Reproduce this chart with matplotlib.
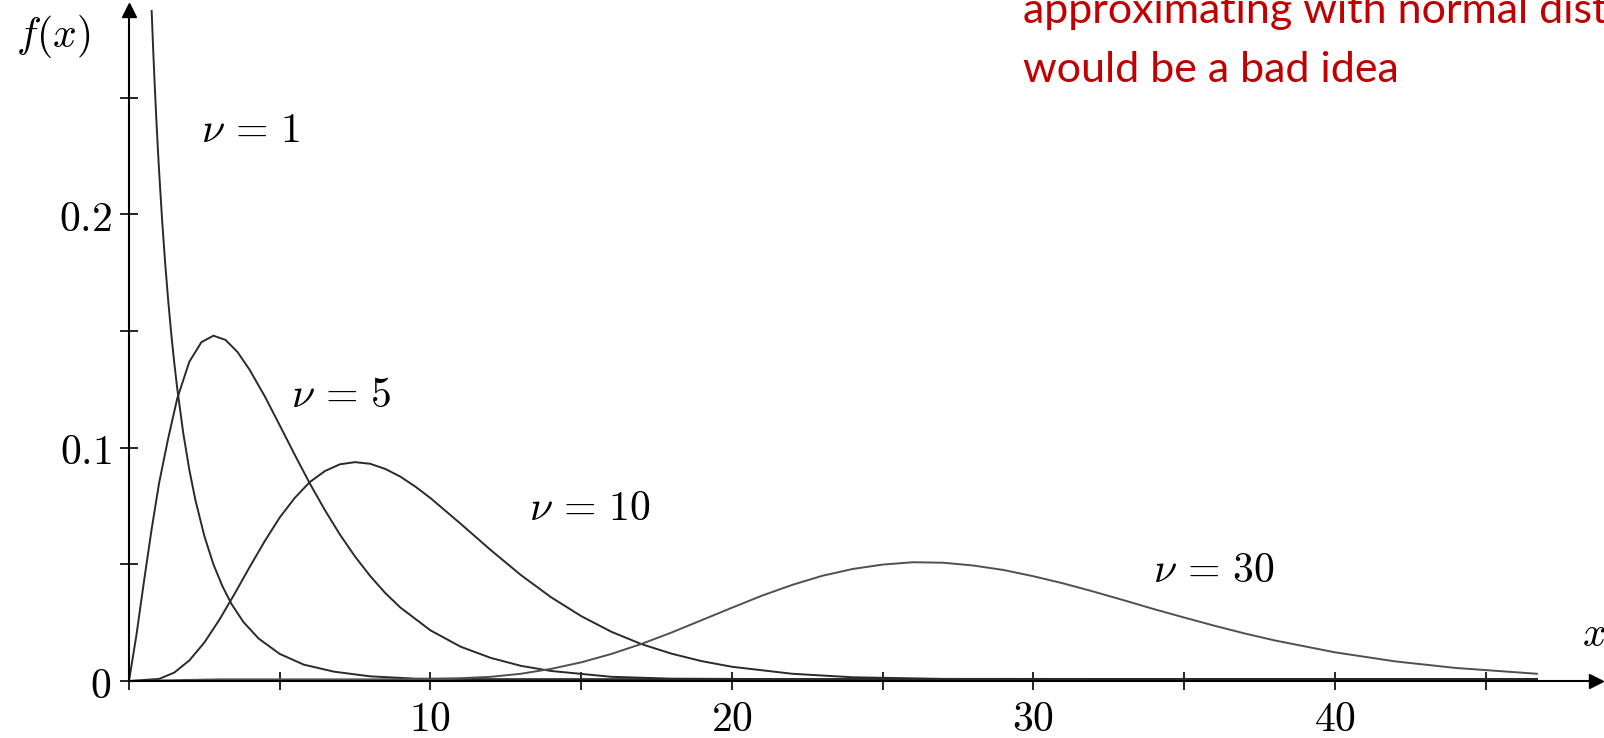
import matplotlib
matplotlib.use('Agg')
import matplotlib.pyplot as plt

plt.rcParams['mathtext.fontset'] = 'cm'

# --- valores (densidade qui-quadrado) ---
x_nu1 = [0.75, 0.80, 0.85, 0.90, 0.95, 1.0, 1.1, 1.2, 1.3, 1.4, 1.5, 1.6, 1.8, 2.0, 2.2,
         2.5, 2.8, 3.1, 3.4, 3.8, 4.3, 5.0, 5.8, 6.8, 8.0, 9.5, 12.0, 46.7]
y_nu1 = [0.2877, 0.2713, 0.2563, 0.2425, 0.2298, 0.2182, 0.1972, 0.1790, 0.1631, 0.1490,
         0.1365, 0.1254, 0.1062, 0.0906, 0.0777, 0.0621, 0.0500, 0.0406, 0.0330, 0.0252,
         0.0182, 0.0116, 0.0070, 0.0040, 0.0020, 0.0010, 0.0008, 0.0008]

x_nu5 = [0, 0.25, 0.5, 0.75, 1.0, 1.3, 1.6, 2.0, 2.4, 2.8, 3.2, 3.6, 4.0, 4.5, 5.0, 5.5,
         6.0, 6.5, 7.0, 7.5, 8.0, 8.5, 9.0, 10, 11, 12, 13, 14, 16, 18, 22, 46.7]
y_nu5 = [0, 0.0200, 0.0430, 0.0650, 0.0850, 0.1040, 0.1211, 0.1368, 0.1452, 0.1480,
         0.1462, 0.1410, 0.1334, 0.1221, 0.1096, 0.0969, 0.0846, 0.0732, 0.0627, 0.0533,
         0.0450, 0.0377, 0.0315, 0.0217, 0.0147, 0.0099, 0.0065, 0.0043, 0.0018, 0.0010,
         0.0008, 0.0008]

x_nu10 = [0, 1.0, 1.5, 2.0, 2.5, 3.0, 3.5, 4.0, 4.5, 5.0, 5.5, 6.0, 6.5, 7.0, 7.5, 8.0,
          8.5, 9.0, 9.5, 10, 11, 12, 13, 14, 15, 16, 17, 18, 19, 20, 22, 24, 27, 46.7]
y_nu10 = [0, 0.0009, 0.0036, 0.0088, 0.0165, 0.0263, 0.0373, 0.0488, 0.0599, 0.0701,
          0.0785, 0.0853, 0.0900, 0.0929, 0.0938, 0.0931, 0.0909, 0.0876, 0.0833, 0.0784,
          0.0674, 0.0561, 0.0454, 0.0359, 0.0278, 0.0211, 0.0158, 0.0117, 0.0085, 0.0061,
          0.0031, 0.0016, 0.0009, 0.0008]

x_nu30 = [0, 3, 8, 10, 11, 12, 13, 14, 15, 16, 17, 18, 19, 20, 21, 22, 23, 24, 25, 26,
          27, 28, 29, 30, 31, 32, 33, 34, 35, 36, 37, 38, 40, 42, 44, 46.7]
y_nu30 = [0, 0.0007, 0.0007, 0.0009, 0.0012, 0.0018, 0.0031, 0.0052, 0.0080, 0.0116,
          0.0159, 0.0208, 0.0261, 0.0314, 0.0366, 0.0412, 0.0451, 0.0480, 0.0499, 0.0509,
          0.0507, 0.0495, 0.0476, 0.0449, 0.0418, 0.0383, 0.0346, 0.0308, 0.0272, 0.0237,
          0.0204, 0.0174, 0.0123, 0.0084, 0.0056, 0.0031]

xticks = [0, 5, 10, 15, 20, 25, 30, 35, 40, 45]
xtick_labels = ['', '', '$10$', '', '$20$', '', '$30$', '', '$40$', '']
yticks = [0, 0.05, 0.1, 0.15, 0.2, 0.25]
ytick_labels = ['$0$', '', '$0.1$', '', '$0.2$', '']

# --- figura ---
fig = plt.figure(figsize=(16.04, 7.38), dpi=100)
ax = fig.add_axes([129 / 1604, 57 / 738, 1467 / 1604, 671 / 738])
ax.set_xlim(0, 48.66)
ax.set_ylim(0, 0.2876)

ax.plot(x_nu1, y_nu1, color='#2a2a2a', lw=1.4)
ax.plot(x_nu5, y_nu5, color='#2a2a2a', lw=1.4)
ax.plot(x_nu10, y_nu10, color='#2a2a2a', lw=1.4)
ax.plot(x_nu30, y_nu30, color='#505050', lw=1.4)

for s in ['top', 'right']:
    ax.spines[s].set_visible(False)
for s in ['left', 'bottom']:
    ax.spines[s].set_linewidth(1.5)

ax.set_xticks(xticks, xtick_labels)
ax.set_yticks(yticks, ytick_labels)
ax.tick_params(direction='inout', length=13, width=1.2, labelsize=30)
ax.tick_params(axis='x', pad=6)
ax.tick_params(axis='y', pad=6)

# setas dos eixos
ax.plot(1, 0, '>k', ms=10, transform=ax.get_yaxis_transform(), clip_on=False)
ax.plot(0, 1, '^k', ms=10, transform=ax.get_xaxis_transform(), clip_on=False)

# rótulos das curvas
ax.text(4.05, 0.236, r'$\nu\,=\,1$', fontsize=30, ha='center', va='center')
ax.text(7.05, 0.1226, r'$\nu\,=\,5$', fontsize=30, ha='center', va='center')
ax.text(15.29, 0.0742, r'$\nu\,=\,10$', fontsize=30, ha='center', va='center')
ax.text(36.0, 0.0476, r'$\nu\,=\,30$', fontsize=30, ha='center', va='center')

fig.text(53 / 1604, 1 - 36 / 738, r'$f(x)$', fontsize=30, ha='center', va='center')
fig.text(1582 / 1604, 1 - 634 / 738, r'$x$', fontsize=30, ha='left', va='center')

# nota em vermelho
fig.text(1023 / 1604, 1 - 23 / 738, 'approximating with normal distribution',
         color='#c00000', fontsize=31, family=['Lato'], va='baseline')
fig.text(1023 / 1604, 1 - 82 / 738, 'would be a bad idea',
         color='#c00000', fontsize=31, family=['Lato'], va='baseline')

fig.savefig('out.png', dpi=100)
